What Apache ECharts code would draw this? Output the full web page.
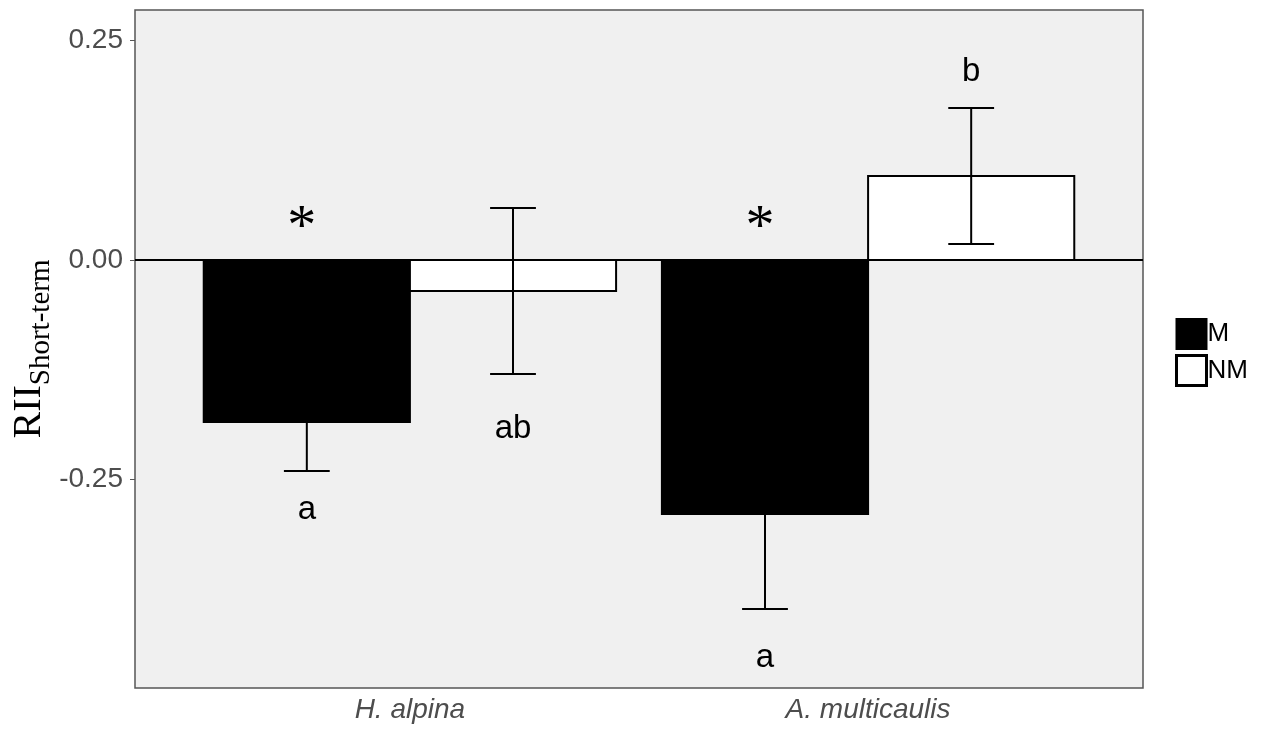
<!DOCTYPE html>
<html>
<head>
<meta charset="utf-8">
<script src="https://cdn.jsdelivr.net/npm/echarts@6/dist/echarts.min.js"></script>
<style>
html,body{margin:0;padding:0;background:#fff;}
#chart{width:1261px;height:731px;}
</style>
</head>
<body>
<div id="chart"></div>
<script>
// ---- data ----
const categories = ['H. alpina', 'A. multicaulis'];
const groups = ['M', 'NM'];
const mMean = [-0.1845, -0.2893];
const mSE = [0.0558, 0.1082];
const nmMean = [-0.0353, 0.0957];
const nmSE = [0.0945, 0.0775];
const mLetters = ['a', 'a'];
const mLetterY = [-0.2847, -0.4533];
const nmLetters = ['ab', 'b'];
const nmLetterY = [-0.1925, 0.2141];
const mStars = ['*', '*'];
const mStarY = [0.036, 0.036];
const yTicks = [-0.25, 0, 0.25];

// ---- layout helpers (dodge positions in category units) ----
const halfBar = 0.225;
const capHalf = 0.05;

function buildRows(means, ses, letterY, starY, offset) {
  return means.map((m, i) => [i + 1 + offset, m, ses[i], letterY[i], starY ? starY[i] : NaN, i]);
}

function makeRender(fill, letters, stars) {
  return function (params, api) {
    const x = api.value(0), mean = api.value(1), se = api.value(2);
    const ly = api.value(3), sy = api.value(4), idx = api.value(5);
    const a = api.coord([x - halfBar, mean]);
    const b = api.coord([x + halfBar, 0]);
    const top = api.coord([x, mean + se]);
    const bot = api.coord([x, mean - se]);
    const cl = api.coord([x - capHalf, mean + se]);
    const cr = api.coord([x + capHalf, mean + se]);
    const lineStyle = { stroke: '#000', lineWidth: 2 };
    const children = [
      {
        type: 'rect',
        shape: { x: a[0], y: Math.min(a[1], b[1]), width: b[0] - a[0], height: Math.abs(b[1] - a[1]) },
        style: { fill: fill, stroke: '#000', lineWidth: 2 }
      },
      { type: 'line', shape: { x1: top[0], y1: top[1], x2: bot[0], y2: bot[1] }, style: lineStyle },
      { type: 'line', shape: { x1: cl[0], y1: top[1], x2: cr[0], y2: top[1] }, style: lineStyle },
      { type: 'line', shape: { x1: cl[0], y1: bot[1], x2: cr[0], y2: bot[1] }, style: lineStyle }
    ];
    const lp = api.coord([x, ly]);
    children.push({
      type: 'text', x: lp[0], y: lp[1],
      style: { text: letters[idx], fill: '#000', fontSize: 33, fontFamily: '"Liberation Sans", Arial, sans-serif', align: 'center', verticalAlign: 'middle' }
    });
    if (stars && !isNaN(sy)) {
      const sp = api.coord([x, sy]);
      children.push({
        type: 'text', x: sp[0] - 5, y: sp[1],
        style: { text: stars[idx], fill: '#000', fontSize: 58, fontFamily: '"Liberation Serif", "Times New Roman", serif', align: 'center', verticalAlign: 'middle' }
      });
    }
    return { type: 'group', children: children };
  };
}

const chart = echarts.init(document.getElementById('chart'), null, { renderer: 'canvas' });

const option = {
  backgroundColor: '#ffffff',
  animation: false,
  grid: {
    left: 135, top: 10, right: 118, bottom: 43,
    outerBoundsMode: 'none', containLabel: false,
    show: true, backgroundColor: '#f0f0f0', borderColor: '#555555', borderWidth: 1.5
  },
  legend: {
    orient: 'vertical',
    left: 1175, top: 318, padding: 0,
    itemWidth: 30, itemHeight: 30, itemGap: 4,
    selectedMode: false,
    icon: 'rect',
    textStyle: { fontSize: 26, color: '#000', fontFamily: '"Liberation Sans", Arial, sans-serif', padding: [0, 0, 0, -4] },
    data: [
      { name: 'M', itemStyle: { color: '#000', borderColor: '#000', borderWidth: 2 } },
      { name: 'NM', itemStyle: { color: '#fff', borderColor: '#000', borderWidth: 3 } }
    ]
  },
  xAxis: {
    type: 'value', min: 0.4, max: 2.6,
    splitLine: { show: false },
    axisLine: { show: false },
    axisTick: { show: true, length: 4, lineStyle: { color: '#555' }, customValues: [1, 2] },
    axisLabel: {
      customValues: [1, 2],
      formatter: v => categories[Math.round(v) - 1] || '',
      fontSize: 28, fontStyle: 'italic', color: '#4d4d4d',
      fontFamily: '"Liberation Sans", Arial, sans-serif', margin: 8
    }
  },
  yAxis: {
    type: 'value', min: -0.4875, max: 0.2847,
    splitLine: { show: false },
    axisLine: { show: false },
    axisTick: { show: true, length: 5, lineStyle: { color: '#555' }, customValues: yTicks },
    axisLabel: {
      customValues: yTicks,
      formatter: v => v.toFixed(2),
      fontSize: 28, color: '#4d4d4d',
      fontFamily: '"Liberation Sans", Arial, sans-serif', margin: 12
    },
    name: '{r|RII}{s|Short-term}',
    nameLocation: 'middle',
    nameRotate: 90,
    nameGap: 76,
    nameMoveOverlap: false,
    nameTextStyle: {
      rich: {
        r: { fontSize: 40, fontFamily: '"Liberation Serif", "Times New Roman", serif', color: '#000', padding: [0, 0, 10, 0] },
        s: { fontSize: 29, fontFamily: '"Liberation Serif", "Times New Roman", serif', color: '#000', padding: [14, 0, 0, 0] }
      }
    }
  },
  series: [
    {
      name: groups[0], type: 'custom', clip: false,
      itemStyle: { color: '#000' },
      renderItem: makeRender('#000', mLetters, mStars),
      encode: { x: 0, y: 1 },
      data: buildRows(mMean, mSE, mLetterY, mStarY, -halfBar)
    },
    {
      name: groups[1], type: 'custom', clip: false,
      itemStyle: { color: '#fff', borderColor: '#000' },
      renderItem: makeRender('#fff', nmLetters, null),
      encode: { x: 0, y: 1 },
      data: buildRows(nmMean, nmSE, nmLetterY, null, halfBar)
    },
    {
      name: 'zero', type: 'line', data: [], z: 10,
      markLine: {
        silent: true, symbol: 'none', animation: false,
        label: { show: false },
        lineStyle: { color: '#000', width: 2, type: 'solid' },
        data: [{ yAxis: 0 }]
      }
    }
  ]
};
chart.setOption(option);
</script>
</body>
</html>
